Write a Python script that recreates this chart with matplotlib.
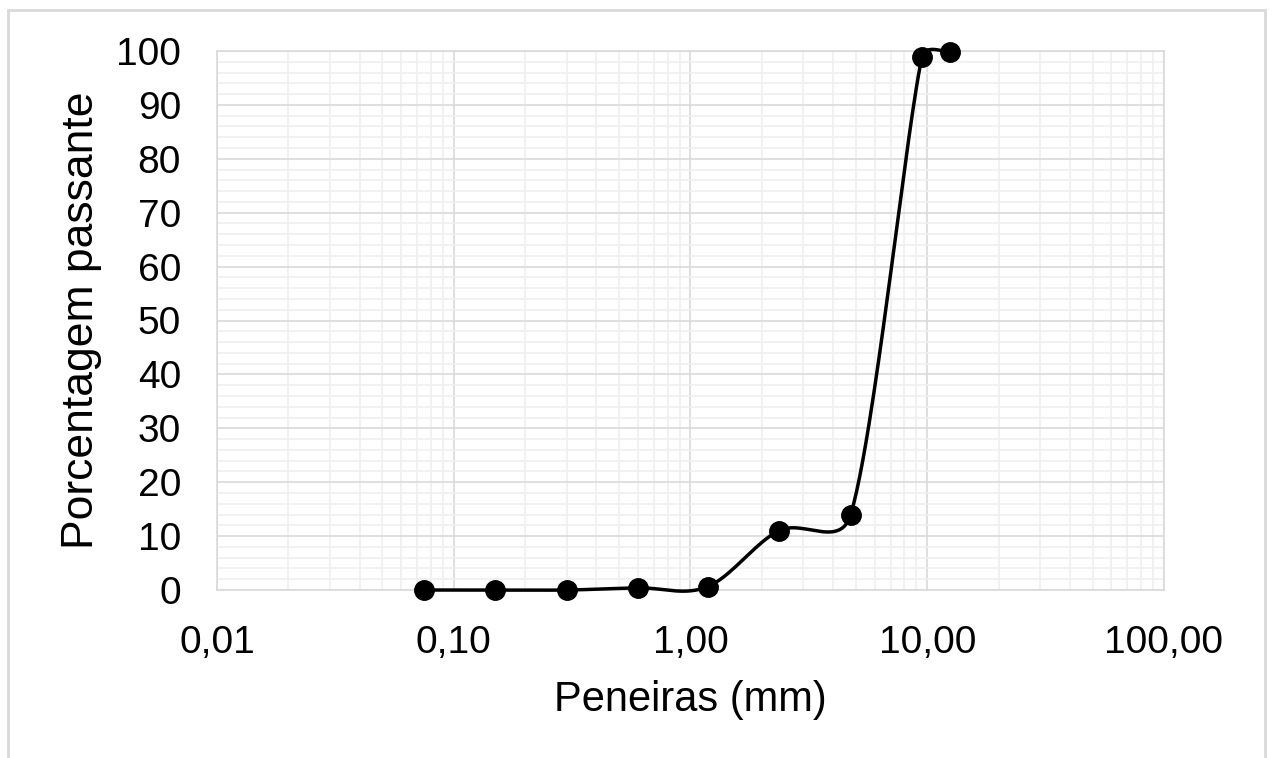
import numpy as np
import matplotlib
matplotlib.use("Agg")
import matplotlib.pyplot as plt
from matplotlib.patches import Rectangle
from matplotlib.ticker import FixedLocator, FuncFormatter

# sieve openings (mm) and percentage passing
sieves_mm = [0.075, 0.15, 0.3, 0.6, 1.18, 2.36, 4.75, 9.5, 12.5]
passing_pct = [0.0, 0.0, 0.0, 0.4, 0.6, 11.0, 14.0, 98.9, 99.8]

x_ticks = [0.01, 0.1, 1, 10, 100]
x_tick_labels = ["0,01", "0,10", "1,00", "10,00", "100,00"]
y_ticks = list(range(0, 101, 10))


def smooth_line(ax, x, y, n=50):
    # Excel-like smoothed line: Bezier segments built in screen space,
    # tangent = (next - prev)/6, limited to half the segment length
    fig = ax.figure
    fig.canvas.draw()
    pts = ax.transData.transform(np.column_stack([x, y]))
    out = []
    for i in range(len(pts) - 1):
        p0 = pts[max(i - 1, 0)]
        p1 = pts[i]
        p2 = pts[i + 1]
        p3 = pts[min(i + 2, len(pts) - 1)]
        seg = np.hypot(*(p2 - p1))
        t1 = (p2 - p0) / 6.0
        t2 = (p3 - p1) / 6.0
        for t in (t1, t2):
            ln = np.hypot(*t)
            if ln > 0.5 * seg:
                t *= 0.5 * seg / ln
        c1 = p1 + t1
        c2 = p2 - t2
        s = np.linspace(0, 1, n)[:, None]
        b = ((1 - s) ** 3) * p1 + 3 * ((1 - s) ** 2) * s * c1 + 3 * (1 - s) * s ** 2 * c2 + s ** 3 * p2
        out.append(b if i == 0 else b[1:])
    out = np.vstack(out)
    data = ax.transData.inverted().transform(out)
    return data[:, 0], data[:, 1]


def main():
    plt.rcParams["font.family"] = ["Liberation Sans", "DejaVu Sans"]
    fig = plt.figure(figsize=(12.72, 7.58), dpi=100)
    ax = fig.add_axes([217 / 1272, 1 - 590 / 758, (1164 - 217) / 1272, (590 - 51) / 758])

    # outer chart border
    fig.patches.append(Rectangle((8 / 1272, -0.05), (1265 - 8) / 1272, 1.05 - 10 / 758,
                                 transform=fig.transFigure, fill=False,
                                 edgecolor="#d9d9d9", lw=2))

    ax.set_xscale("log")
    ax.set_xlim(0.01, 100)
    ax.set_ylim(0, 100)

    ax.xaxis.set_major_locator(FixedLocator(x_ticks))
    ax.xaxis.set_major_formatter(FuncFormatter(lambda v, p: x_tick_labels[x_ticks.index(v)] if v in x_ticks else ""))
    minor_x = [m * 10.0 ** e for e in range(-2, 2) for m in range(2, 10)]
    ax.xaxis.set_minor_locator(FixedLocator(minor_x))
    ax.xaxis.set_minor_formatter(FuncFormatter(lambda v, p: ""))
    ax.yaxis.set_major_locator(FixedLocator(y_ticks))
    ax.yaxis.set_minor_locator(FixedLocator(list(range(0, 101, 2))))

    ax.grid(which="minor", color="#efefef", lw=1.2)
    ax.grid(which="major", color="#d9d9d9", lw=1.2)
    ax.set_axisbelow(True)
    for s in ax.spines.values():
        s.set_color("#d9d9d9")
        s.set_linewidth(1.2)

    ax.tick_params(which="both", length=0)
    ax.tick_params(axis="y", labelsize=28, pad=26)
    ax.tick_params(axis="x", labelsize=28, pad=25)

    xs, ys = smooth_line(ax, sieves_mm, passing_pct)
    ax.plot(xs, ys, color="black", lw=2.5, zorder=3, clip_on=False)
    ax.plot(sieves_mm, passing_pct, "o", color="black", ms=14, zorder=4, clip_on=False)

    ax.set_xlabel("Peneiras (mm)", fontsize=30, labelpad=14)
    ax.set_ylabel("Porcentagem passante", fontsize=32, labelpad=10)

    fig.savefig("out.png", dpi=100)


if __name__ == "__main__":
    main()
